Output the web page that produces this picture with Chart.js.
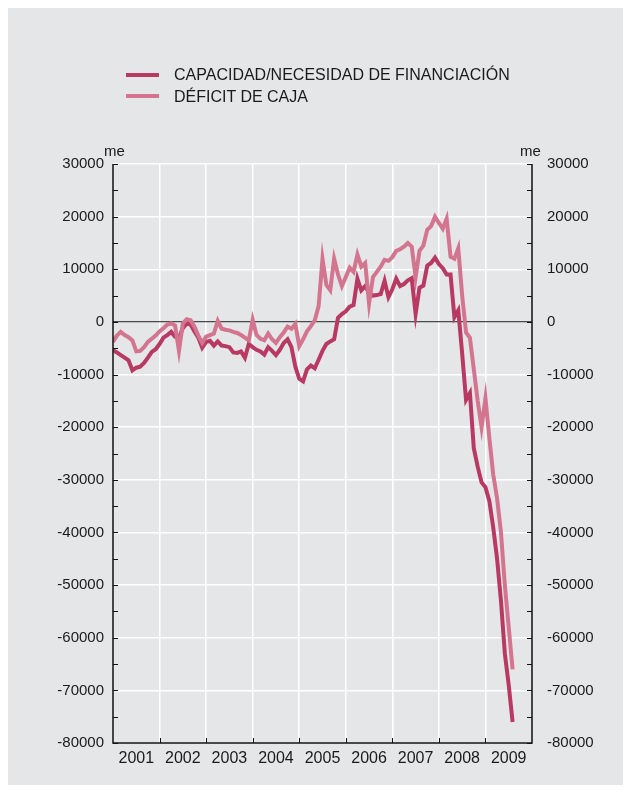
<!DOCTYPE html>
<html>
<head>
<meta charset="utf-8">
<script src="https://cdn.jsdelivr.net/npm/chart.js@4/dist/chart.umd.min.js"></script>
<style>
  html, body { margin: 0; padding: 0; background: #ffffff; }
  #frame {
    position: absolute; left: 8px; top: 8px; width: 615px; height: 777px;
    background: #e5e6e8;
  }
  #wrap { position: absolute; left: 0; top: 0; width: 631px; height: 793px; }
  .lbl {
    position: absolute; font-family: "Liberation Sans", Arial, sans-serif;
    font-size: 16px; color: #1a1a1a; white-space: nowrap; line-height: 18px;
  }
  .me { font-size: 15px; }
  .swatch { position: absolute; width: 33px; height: 4px; }
</style>
</head>
<body>
<div id="frame"></div>
<div id="wrap">
  <canvas id="chart" width="631" height="793"></canvas>
  <div class="swatch" style="left:126px; top:73px; background:#b83a62;"></div>
  <div class="lbl" style="left:174px; top:66px;">CAPACIDAD/NECESIDAD DE FINANCIACIÓN</div>
  <div class="swatch" style="left:126px; top:94px; background:#d4758f;"></div>
  <div class="lbl" style="left:174px; top:88px;">DÉFICIT DE CAJA</div>
  <div class="lbl me" style="left:104px; top:142px;">me</div>
  <div class="lbl me" style="left:520px; top:142px;">me</div>
</div>
<script>
// Year labels for the bottom axis (one tick every 12 months)
const years = ["2001", "2002", "2003", "2004", "2005", "2006", "2007", "2008", "2009"];

// Monthly values, Jan 2001 - Aug 2009 (millones de euros)
const capacidad = [
  -5400, -5800, -6300, -6800, -7300, -9200, -8700, -8500, -7800, -6800, -5700, -5200,
  -4200, -3000, -2500, -1900, -2800, -3000, -1200, -300, -500, -1800, -3000, -4900,
  -3800, -3600, -4500, -3700, -4500, -4600, -4800, -5800, -5900, -5600, -6800, -4200,
  -4800, -5300, -5600, -6200, -4800, -5500, -6300, -5300, -4000, -3300, -4800, -8500,
  -10800, -11300, -9000, -8300, -8800, -7200, -5500, -4200, -3700, -3300, 800, 1500,
  2000, 2900, 3200, 8200, 6000, 6800, 5500, 5000, 5100, 5300, 7800, 4700,
  6200, 8200, 6800, 7200, 7900, 8300, 1500, 6500, 6900, 10700, 11200, 12200,
  11000, 10200, 9000, 9000, 900, 2200, -6000, -14800, -13500, -24000, -27500, -30500,
  -31400, -34000, -39000, -45000, -53000, -63000, -69000, -76000
];

const deficit = [
  -3800, -2600, -1900, -2500, -2900, -3500, -5600, -5500, -4800, -3800, -3200, -2600,
  -1800, -1200, -500, -300, -700, -5500, -300, 500, 300, -900, -2600, -4000,
  -2800, -2500, -2200, 200, -1300, -1500, -1600, -1900, -2100, -2500, -3000, -3500,
  400, -2500, -3200, -3500, -2200, -3300, -4000, -2900, -2000, -900, -1300, -400,
  -4600, -3300, -1800, -800, 300, 3000, 12000, 7000, 6000, 12000, 9000, 6800,
  8500, 10300, 9500, 12800, 10500, 11200, 3500, 8500, 9500, 10500, 11800, 11600,
  12300, 13500, 13800, 14300, 15000, 14300, 8500, 13500, 14500, 17500, 18200, 20000,
  18800, 17700, 19600, 12400, 12000, 14000, 5000, -2000, -3000, -9000, -15000, -20000,
  -14500, -22000, -29000, -33500, -40000, -50000, -58000, -66000
];

const DARK = "#b83a62";
const LIGHT = "#d4758f";
const FONT = { family: "'Liberation Sans', Arial, sans-serif", size: 15 };

// Draws the black frame lines and the small inward tick marks
const axisFrame = {
  id: "axisFrame",
  afterDraw(chart) {
    const { ctx, chartArea: a, scales } = chart;
    ctx.save();
    ctx.strokeStyle = "#111";
    ctx.lineWidth = 1.5;
    ctx.beginPath();
    ctx.moveTo(a.left, a.top);
    ctx.lineTo(a.left, a.bottom);
    ctx.lineTo(a.right, a.bottom);
    ctx.lineTo(a.right, a.top);
    ctx.stroke();

    ctx.lineWidth = 1;
    ctx.beginPath();
    for (let v = -80000; v <= 30000; v += 5000) {
      const y = Math.round(scales.y.getPixelForValue(v)) + 0.5;
      ctx.moveTo(a.left, y);
      ctx.lineTo(a.left + 5, y);
      ctx.moveTo(a.right - 5, y);
      ctx.lineTo(a.right, y);
    }
    for (let m = 12; m < 108; m += 12) {
      const x = Math.round(scales.x.getPixelForValue(m)) + 0.5;
      ctx.moveTo(x, a.bottom);
      ctx.lineTo(x, a.bottom - 5);
    }
    ctx.stroke();
    ctx.restore();
  }
};

const ctx = document.getElementById("chart").getContext("2d");

new Chart(ctx, {
  type: "line",
  data: {
    datasets: [
      {
        label: "CAPACIDAD/NECESIDAD DE FINANCIACIÓN",
        data: capacidad.map((v, i) => ({ x: i, y: v })),
        borderColor: DARK,
        borderWidth: 4,
        pointRadius: 0,
        tension: 0,
        order: 2
      },
      {
        label: "DÉFICIT DE CAJA",
        data: deficit.map((v, i) => ({ x: i, y: v })),
        borderColor: LIGHT,
        borderWidth: 4,
        pointRadius: 0,
        tension: 0,
        order: 1
      }
    ]
  },
  options: {
    responsive: false,
    animation: false,
    devicePixelRatio: 1,
    layout: { padding: { top: 164, left: 0, right: 0, bottom: 0 } },
    plugins: {
      legend: { display: false },
      tooltip: { enabled: false }
    },
    scales: {
      x: {
        type: "linear",
        min: 0,
        max: 108,
        afterFit: scale => { scale.height = 50; },
        afterBuildTicks: scale => {
          const t = [];
          for (let m = 0; m <= 108; m += 6) t.push({ value: m });
          scale.ticks = t;
        },
        ticks: {
          autoSkip: false,
          maxRotation: 0,
          padding: 6,
          color: "#1a1a1a",
          font: { family: FONT.family, size: 16 },
          callback: value => (value % 12 === 6 ? years[(value - 6) / 12] : "")
        },
        grid: {
          drawTicks: false,
          lineWidth: 1.5,
          color: c => (c.tick && c.tick.value % 12 === 0 && c.tick.value > 0 && c.tick.value < 108 ? "#ffffff" : "rgba(0,0,0,0)")
        },
        border: { display: false }
      },
      y: {
        position: "left",
        min: -80000,
        max: 30000,
        afterFit: scale => { scale.width = 113; },
        ticks: {
          stepSize: 5000,
          autoSkip: false,
          padding: 9,
          color: "#1a1a1a",
          font: FONT,
          callback: value => (value % 10000 === 0 ? String(value) : "")
        },
        grid: {
          drawTicks: false,
          lineWidth: c => (c.tick && c.tick.value === 0 ? 1.2 : 1.5),
          color: c => {
            if (!c.tick) return "rgba(0,0,0,0)";
            if (c.tick.value === 0) return "#4a4a4a";
            return c.tick.value % 10000 === 0 ? "#ffffff" : "rgba(0,0,0,0)";
          }
        },
        border: { display: false }
      },
      y2: {
        position: "right",
        min: -80000,
        max: 30000,
        afterFit: scale => { scale.width = 99; },
        ticks: {
          stepSize: 5000,
          autoSkip: false,
          padding: 15,
          color: "#1a1a1a",
          font: FONT,
          callback: value => (value % 10000 === 0 ? String(value) : "")
        },
        grid: { display: false, drawTicks: false },
        border: { display: false }
      }
    }
  },
  plugins: [axisFrame]
});
</script>
</body>
</html>
